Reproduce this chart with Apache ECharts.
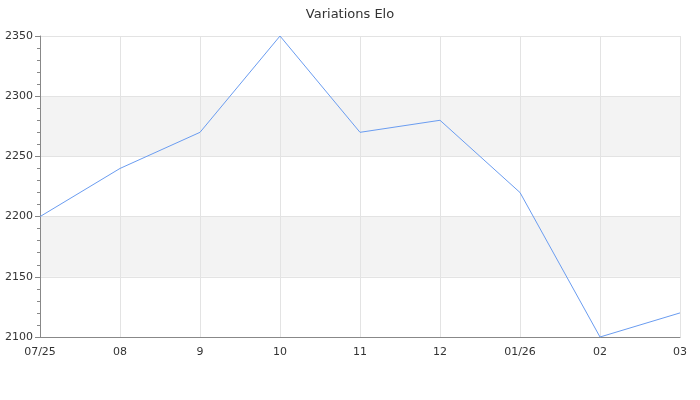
<!DOCTYPE html>
<html><head><meta charset="utf-8">
<script src="https://cdn.jsdelivr.net/npm/echarts@6/dist/echarts.min.js"></script>
<style>html,body{margin:0;padding:0;background:#fff}#c{width:700px;height:400px}</style>
</head><body><div id="c"></div>
<script>
const categories = ['07/25','08','9','10','11','12','01/26','02','03'];
const eloValues = [2200, 2240, 2270, 2350, 2270, 2280, 2220, 2100, 2120];
const yMin = 2100, yMax = 2350, yStep = 50;

const chart = echarts.init(document.getElementById('c'), null, {renderer:'canvas'});
chart.setOption({
  animation: false,
  backgroundColor: '#fff',
  textStyle: {fontFamily: 'DejaVu Sans'},
  title: {text: 'Variations Elo', left: 'center', top: 3,
    textStyle: {fontFamily: 'DejaVu Sans', fontSize: 13, fontWeight: 'normal', color: '#333'}},
  grid: {left: 40, right: 20, top: 36, bottom: 63, containLabel: false},
  xAxis: {
    type: 'category', data: categories, boundaryGap: false,
    axisLine: {lineStyle: {color: '#888', width: 1}},
    axisTick: {show: false},
    axisLabel: {color: '#333', fontSize: 11, margin: 10, interval: 0},
    splitLine: {show: true, lineStyle: {color: '#e3e3e3', width: 1}}
  },
  yAxis: {
    type: 'value', min: yMin, max: yMax, interval: yStep,
    axisLine: {show: true, lineStyle: {color: '#888', width: 1}},
    axisTick: {show: true, length: 5, lineStyle: {color: '#888'}},
    minorTick: {show: true, splitNumber: 5, length: 3, lineStyle: {color: '#888'}},
    axisLabel: {color: '#333', fontSize: 11, margin: 7, formatter: v => String(v)},
    splitLine: {show: true, lineStyle: {color: '#e3e3e3', width: 1}},
    splitArea: {show: true, areaStyle: {color: ['rgba(255,255,255,0)', '#f3f3f3']}}
  },
  series: [{
    type: 'line', data: eloValues, showSymbol: false, symbol: 'none',
    lineStyle: {color: '#6a9cf0', width: 1}
  }]
});
</script></body></html>
